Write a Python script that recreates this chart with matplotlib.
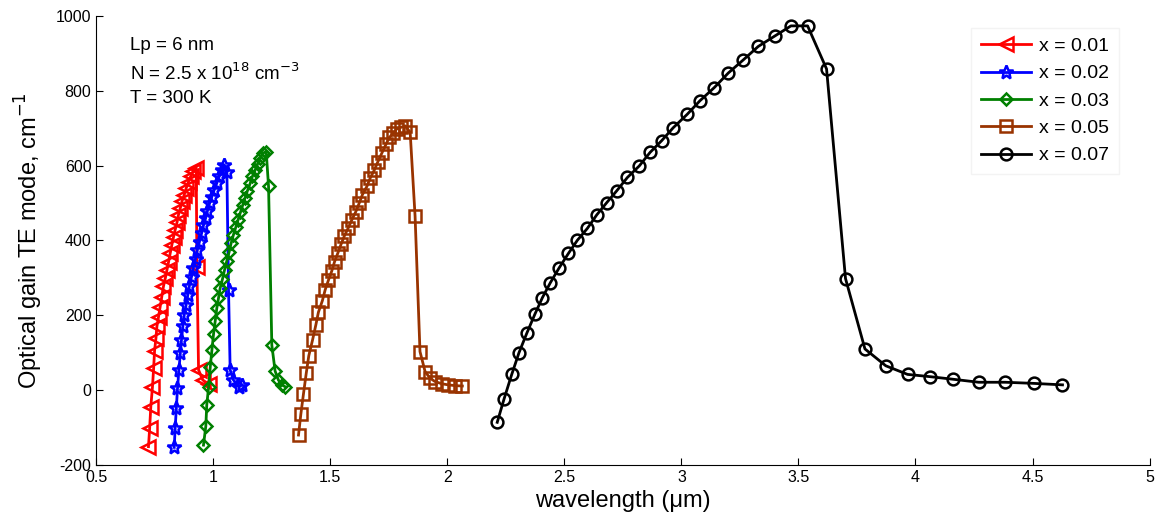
import numpy as np
import matplotlib.pyplot as plt

plt.rcParams['font.family'] = ['Liberation Sans', 'DejaVu Sans']
plt.rcParams['axes.unicode_minus'] = False

# x = 0.01
wl_01 = [0.723, 0.728, 0.733, 0.740, 0.745, 0.749, 0.755, 0.759, 0.766, 0.773,
         0.780, 0.787, 0.795, 0.802, 0.809, 0.816, 0.823, 0.830, 0.837, 0.845,
         0.851, 0.859, 0.866, 0.876, 0.884, 0.894, 0.904, 0.915, 0.927,
         0.930, 0.937, 0.955, 0.980]
g_01 = [-151, -102, -44, 8, 58, 105, 139, 170, 196, 223,
        250, 277, 299, 321, 343, 366, 388, 409, 428, 448,
        468, 486, 504, 522, 539, 557, 572, 586, 593,
        330, 54, 27, 16]

# x = 0.02
wl_02 = [0.833, 0.837, 0.842, 0.847, 0.853, 0.859, 0.864, 0.870, 0.876, 0.884,
         0.891, 0.898, 0.907, 0.915, 0.924, 0.932, 0.941, 0.950, 0.958, 0.967,
         0.975, 0.984, 0.994, 1.004, 1.015, 1.025, 1.037, 1.047, 1.058,
         1.065, 1.072, 1.086, 1.108, 1.122]
g_02 = [-153, -102, -49, 5, 53, 98, 134, 170, 201, 228,
        254, 279, 303, 327, 351, 375, 397, 419, 440, 459,
        479, 499, 517, 535, 553, 571, 588, 602, 584,
        268, 54, 27, 9, 14]

# x = 0.03
wl_03 = [0.958, 0.968, 0.972, 0.980, 0.987, 0.994, 1.001, 1.008, 1.015, 1.022,
         1.029, 1.039, 1.048, 1.058, 1.068, 1.076, 1.086, 1.096, 1.106, 1.116,
         1.126, 1.136, 1.146, 1.158, 1.167, 1.179, 1.189, 1.200, 1.212, 1.226,
         1.236, 1.250, 1.264, 1.278, 1.293, 1.307]
g_03 = [-147, -96, -40, 9, 62, 107, 150, 184, 219, 245,
        272, 296, 321, 346, 370, 392, 415, 435, 455, 475,
        495, 514, 533, 553, 571, 588, 604, 619, 633, 637,
        544, 120, 51, 27, 14, 9]

# x = 0.05
wl_05 = [1.364, 1.374, 1.385, 1.397, 1.408, 1.424, 1.438, 1.449, 1.466, 1.478,
         1.492, 1.506, 1.518, 1.532, 1.546, 1.560, 1.577, 1.592, 1.609, 1.623,
         1.637, 1.656, 1.670, 1.688, 1.703, 1.720, 1.738, 1.752, 1.769, 1.784,
         1.802, 1.819, 1.841, 1.862, 1.883, 1.905, 1.926, 1.947, 1.976, 2.004,
         2.033, 2.064]
g_05 = [-120, -64, -11, 45, 92, 134, 174, 208, 239, 268,
        294, 318, 343, 366, 390, 412, 434, 455, 477, 499,
        522, 544, 566, 588, 610, 633, 657, 675, 686, 698,
        702, 706, 689, 465, 103, 49, 32, 23, 17, 14,
        12, 11]

# x = 0.07
wl_07 = [2.213, 2.242, 2.275, 2.306, 2.340, 2.374, 2.406, 2.440, 2.478, 2.517,
         2.555, 2.598, 2.638, 2.681, 2.723, 2.769, 2.820, 2.866, 2.915, 2.965,
         3.025, 3.079, 3.140, 3.200, 3.264, 3.328, 3.399, 3.468, 3.539, 3.620,
         3.701, 3.784, 3.873, 3.966, 4.061, 4.161, 4.270, 4.384, 4.505, 4.628]
g_07 = [-86, -24, 42, 100, 153, 203, 247, 287, 327, 365,
        400, 432, 468, 501, 532, 568, 599, 635, 666, 701,
        737, 773, 808, 847, 882, 918, 946, 973, 973, 858,
        298, 110, 65, 42, 36, 29, 21, 21, 18, 14]

series = [
    (wl_01, g_01, 'x = 0.01', 'red', '<'),
    (wl_02, g_02, 'x = 0.02', 'blue', '*'),
    (wl_03, g_03, 'x = 0.03', 'green', 'D'),
    (wl_05, g_05, 'x = 0.05', '#993300', 's'),
    (wl_07, g_07, 'x = 0.07', 'black', 'o'),
]

fig = plt.figure(figsize=(11.6, 5.26), dpi=100)
ax = fig.add_axes([0.083, 0.116, 0.908, 0.854])

for wl, g, lab, col, mk in series:
    ms = 8.5
    if mk == 'D':
        ms = 6.5
    elif mk == '*':
        ms = 10
    elif mk == '<':
        ms = 9.5
    ax.plot(wl, g, color=col, marker=mk, ms=ms, mfc='none', mew=1.8,
            lw=2, label=lab)

ax.set_xlim(0.5, 5)
ax.set_ylim(-200, 1000)
ax.set_xticks(np.arange(0.5, 5.01, 0.5))
ax.set_xticklabels(['0.5', '1', '1.5', '2', '2.5', '3', '3.5', '4', '4.5', '5'])
ax.set_yticks(np.arange(-200, 1001, 200))
ax.tick_params(direction='in', length=5, labelsize=11.5)
ax.spines['top'].set_visible(False)
ax.spines['right'].set_visible(False)

ax.set_xlabel('wavelength (μm)', fontsize=17, labelpad=4)
ax.set_ylabel('Optical gain TE mode, cm$^{-1}$', fontsize=17, labelpad=8)

ax.text(0.032, 0.952, 'Lp = 6 nm\nN = 2.5 x 10$^{18}$ cm$^{-3}$\nT = 300 K',
        transform=ax.transAxes, va='top', ha='left', fontsize=13.5,
        linespacing=1.45)

leg = ax.legend(loc='upper right', bbox_to_anchor=(0.980, 0.995), fontsize=14,
                frameon=True, fancybox=False, handlelength=2.6,
                borderpad=0.5, labelspacing=0.5, handletextpad=0.4)
leg.get_frame().set_edgecolor('#f0f0f0')
leg.get_frame().set_linewidth(1.0)

fig.savefig('out.png', dpi=100)
